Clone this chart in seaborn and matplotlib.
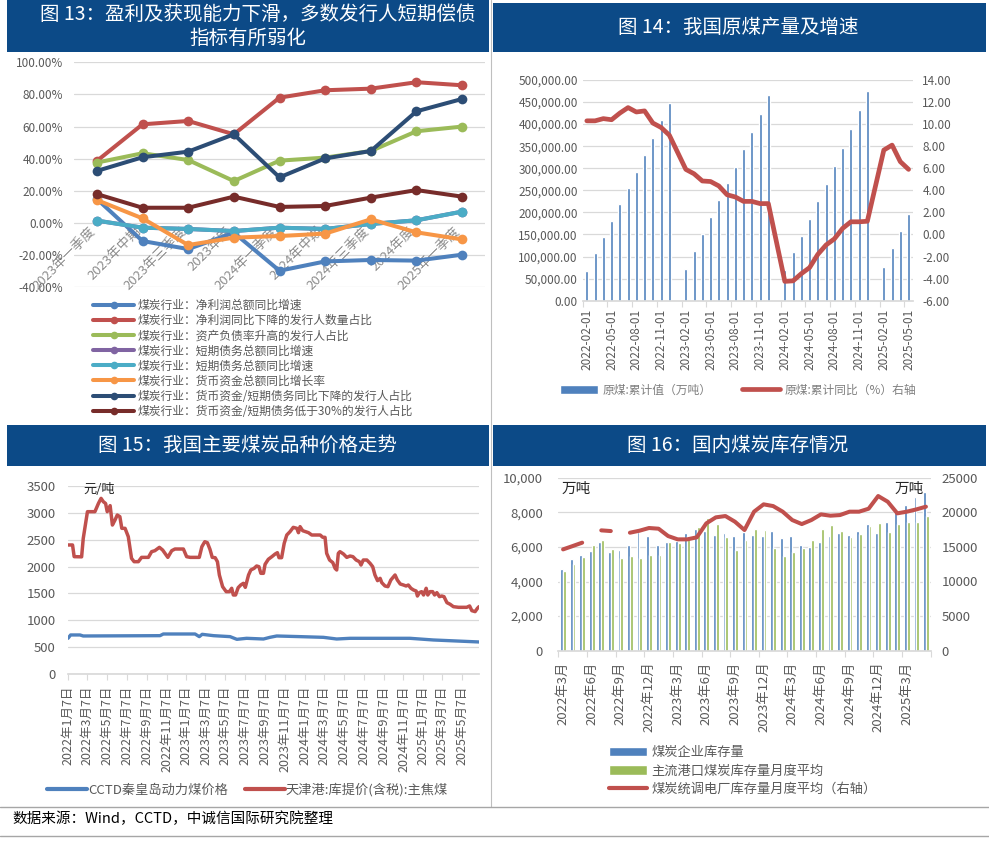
import numpy as np
import pandas as pd
import matplotlib
matplotlib.use('Agg')
import matplotlib.pyplot as plt
import matplotlib.dates as mdates
import seaborn as sns
from matplotlib.patches import Rectangle, Patch
from matplotlib.lines import Line2D
from matplotlib.ticker import FuncFormatter, FixedLocator

sns.set_theme(style='white')
plt.rcParams['font.family'] = ['Noto Sans CJK SC', 'DejaVu Sans']
plt.rcParams['axes.unicode_minus'] = False

nan = np.nan

# ---------------- Panel 13 data ----------------
periods = ['2023年一季度', '2023年中期', '2023年三季度', '2023年度', '2024年一季度',
           '2024年中期', '2024年三季度', '2024年度', '2025年一季度']
series13_labels = ['煤炭行业：净利润总额同比增速',
                   '煤炭行业：净利润同比下降的发行人数量占比',
                   '煤炭行业：资产负债率升高的发行人占比',
                   '煤炭行业：短期债务总额同比增速',
                   '煤炭行业：短期债务总额同比增速',
                   '煤炭行业：货币资金总额同比增长率',
                   '煤炭行业：货币资金/短期债务同比下降的发行人占比',
                   '煤炭行业：货币资金/短期债务低于30%的发行人占比']
profit_growth = [15.0, -11.2, -16.2, -6.0, -29.7, -23.9, -23.0, -23.4, -19.7]
profit_decline_share = [38.6, 61.4, 63.5, 55.2, 78.0, 82.6, 83.6, 87.6, 85.7]
leverage_up_share = [37.6, 43.4, 39.2, 26.1, 38.8, 40.7, 44.8, 57.1, 60.0]
short_debt_growth_a = [1.5, -2.9, -3.7, -5.0, -2.9, -3.7, -0.6, 1.7, 7.1]
short_debt_growth_b = [1.5, -2.9, -3.7, -5.0, -2.9, -3.7, -0.6, 1.7, 7.1]
cash_growth = [14.3, 2.9, -13.7, -9.1, -8.1, -6.6, 2.3, -5.8, -10.2]
cash_debt_decline_share = [32.4, 40.9, 44.4, 55.2, 28.4, 40.2, 44.8, 69.5, 77.2]
cash_debt_below30_share = [18.0, 9.5, 9.5, 16.4, 10.0, 10.6, 15.8, 20.5, 16.4]
colors13 = ['#4F81BD', '#C0504D', '#9BBB59', '#8064A2', '#4BACC6', '#F79646', '#2C4D75', '#772C2A']

# ---------------- Panel 14 data ----------------
months14 = pd.date_range('2022-02-01', '2025-05-01', freq='MS')
raw_coal_cum = [67000, 107000, 143500, 180000, 218000, 255000, 292000, 331000, 368600, 409000, 449000,
                nan, 72000, 113000, 151000, 190000, 229000, 266000, 304000, 344000, 382000, 423000, 466000,
                nan, 69000, 109500, 146500, 184000, 226000, 264000, 305000, 347000, 388000, 432000, 476000,
                nan, 75500, 119000, 158000, 197000]
raw_coal_yoy = [10.3, 10.3, 10.5, 10.4, 11.0, 11.5, 11.1, 11.2, 10.1, 9.7, 9.0,
                nan, 5.9, 5.5, 4.85, 4.8, 4.4, 3.6, 3.4, 3.0, 3.0, 2.8, 2.8,
                nan, -4.25, -4.2, -3.55, -3.0, -1.8, -0.95, -0.4, 0.55, 1.15, 1.15, 1.2,
                nan, 7.65, 8.1, 6.6, 5.9]

# ---------------- Panel 15 data ----------------
price_start = '2022-01-07'
coking_days = [0, 14, 19, 42, 47, 60, 83, 94, 102, 109, 116, 121, 130, 137, 145, 152, 160, 166, 176, 186,
               196, 204, 217, 227, 248, 258, 268, 282, 292, 308, 320, 330, 356, 366, 377, 405, 413, 422,
               430, 438, 445, 454, 461, 467, 477, 488, 498, 505, 510, 517, 525, 533, 541, 547, 557, 564,
               574, 582, 589, 595, 603, 608, 618, 629, 639, 646, 651, 659, 667, 675, 685, 695, 706, 711,
               716, 724, 742, 752, 778, 786, 793, 798, 807, 817, 824, 829, 834, 839, 850, 860, 870, 879,
               889, 899, 904, 911, 922, 932, 940, 947, 955, 963, 968, 978, 987, 996, 1009, 1016, 1025,
               1035, 1043, 1050, 1058, 1066, 1074, 1078, 1084, 1091, 1097, 1105, 1110, 1117, 1125, 1131,
               1138, 1146, 1153, 1160, 1169, 1179, 1189, 1205, 1230, 1239, 1246, 1256, 1263, 1268]
coking_price = [2400, 2400, 2183, 2180, 2520, 3018, 3018, 3172, 3265, 3203, 3170, 3018, 3130, 2770, 2863,
                2956, 2925, 2709, 2709, 2554, 2152, 2090, 2090, 2170, 2170, 2276, 2294, 2356, 2306, 2170,
                2294, 2325, 2325, 2183, 2170, 2170, 2368, 2461, 2442, 2319, 2170, 2164, 2090, 1843, 1626,
                1534, 1534, 1596, 1472, 1472, 1608, 1657, 1688, 1614, 1843, 1936, 1966, 2010, 1997, 1874,
                1874, 2041, 2134, 2183, 2232, 2257, 2164, 2164, 2430, 2585, 2647, 2727, 2709, 2628, 2740,
                2665, 2628, 2585, 2585, 2542, 2542, 2245, 2121, 2072, 1966, 1936, 2245, 2276, 2232, 2170,
                2195, 2183, 2121, 2090, 2028, 2121, 2121, 2059, 1997, 1843, 1738, 1781, 1701, 1639, 1626,
                1750, 1843, 1750, 1676, 1657, 1639, 1657, 1596, 1565, 1546, 1453, 1515, 1534, 1472, 1596,
                1472, 1534, 1534, 1472, 1515, 1441, 1453, 1441, 1330, 1299, 1255, 1243, 1243, 1268, 1181,
                1163, 1224, 1255]
thermal_days = [0, 8, 37, 47, 284, 294, 392, 405, 414, 449, 500, 521, 551, 603, 623, 644, 716, 788, 829,
                870, 1055, 1127, 1268]
thermal_price = [668, 730, 730, 711, 717, 748, 748, 699, 742, 717, 699, 649, 668, 655, 686, 711, 699, 686,
                 655, 668, 668, 637, 600]

# ---------------- Panel 16 data ----------------
months16 = pd.date_range('2022-03-01', '2025-05-01', freq='MS')
enterprise_stock = [4720, 5300, 5510, 5760, 6300, 5720, 5820, 6110, 6880, 6630, 6110, 6300, 6340, 6780,
                    7010, 6920, 6690, 6800, 6630, 6880, 6690, 6630, 6920, 6510, 6610, 6110, 6010, 6300,
                    6630, 6800, 6690, 6920, 7300, 6820, 7440, 8170, 8400, 8880, 9190]
port_stock = [4590, 5030, 5390, 6090, 6420, 5860, 5380, 5470, 5360, 5550, 5510, 6300, 6200, 6630, 7170,
              7650, 7300, 6570, 5820, 6400, 7010, 6980, 5930, 5450, 5700, 5920, 6400, 7030, 7260, 6940,
              6570, 6740, 7210, 7360, 6880, 7320, 7440, 7440, 7780]
plant_stock = [14640, 15120, 15610, nan, 17390, 17290, nan, 17050, 17340, 17730, 17630, 16570, 16090,
               16090, 16380, 18400, 19270, 19460, 18640, 17440, 20090, 21150, 20900, 20090, 18880, 18300,
               18880, 19700, 19510, 19600, 20090, 20090, 20520, 22350, 21530, 19850, 20090, 20420, 20810]

BAR = '#0C4A87'
GRID = '#D9D9D9'
TICK = '#595959'

fig = plt.figure(figsize=(9.89, 8.42), dpi=100)


def fx(px):
    return px / 989


def fy(py):
    return 1 - py / 842


def axes_px(x0, x1, ytop, ybot):
    return fig.add_axes([fx(x0), fy(ybot), fx(x1) - fx(x0), fy(ytop) - fy(ybot)])


def bar(x0, x1, y0, y1):
    fig.add_artist(Rectangle((fx(x0), fy(y1)), fx(x1) - fx(x0), fy(y0) - fy(y1),
                             transform=fig.transFigure, facecolor=BAR, edgecolor='none', zorder=0))


# Title bars
bar(7, 489, 0, 52)
bar(493, 986, 3, 52)
bar(7, 489, 425, 466)
bar(493, 986, 425, 466)
tkw = dict(color='white', fontsize=14, ha='center', va='center')
fig.text(fx(258), fy(14), '图 13：盈利及获现能力下滑，多数发行人短期偿债', **tkw)
fig.text(fx(248), fy(38), '指标有所弱化', **tkw)
fig.text(fx(738), fy(27), '图 14：我国原煤产量及增速', **tkw)
fig.text(fx(248), fy(445), '图 15：我国主要煤炭品种价格走势', **tkw)
fig.text(fx(738), fy(445), '图 16：国内煤炭库存情况', **tkw)

# separators
fig.add_artist(Line2D([fx(491), fx(491)], [fy(0), fy(807)], transform=fig.transFigure, color='#BFBFBF', lw=0.8))
fig.add_artist(Line2D([0, 1], [fy(807), fy(807)], transform=fig.transFigure, color='#A6A6A6', lw=1.0))
fig.add_artist(Line2D([0, 1], [fy(836), fy(836)], transform=fig.transFigure, color='#A6A6A6', lw=1.0))
fig.text(fx(12), fy(819), '数据来源：Wind，CCTD，中诚信国际研究院整理', fontsize=10.5, color='black', va='center')

# ================= Panel 13 =================
ax1 = axes_px(74, 485, 62.3, 287.3)
vals13 = [profit_growth, profit_decline_share, leverage_up_share, short_debt_growth_a,
          short_debt_growth_b, cash_growth, cash_debt_decline_share, cash_debt_below30_share]
rows = []
for k, v in enumerate(vals13):
    for i, val in enumerate(v):
        rows.append({'key': f's{k}', 'idx': i, 'value': val})
df13 = pd.DataFrame(rows)
sns.lineplot(data=df13, x='idx', y='value', hue='key', hue_order=[f's{k}' for k in range(8)],
             palette=colors13, marker='o', markersize=7, markeredgewidth=0, linewidth=2.9,
             legend=False, ax=ax1, zorder=3)
ax1.set_xlim(-0.5, 8.5)
ax1.set_ylim(-40, 100)
ax1.set_yticks(range(-40, 101, 20))
ax1.yaxis.set_major_formatter(FuncFormatter(lambda v, p: f'{v:.2f}%'))
ax1.set_xticks([])
ax1.set_xlabel('')
ax1.set_ylabel('')
ax1.grid(axis='y', color=GRID, lw=0.9)
ax1.set_axisbelow(True)
for s in ax1.spines.values():
    s.set_visible(False)
ax1.tick_params(axis='y', length=0, pad=8, labelsize=8.5, labelcolor=TICK)
for i, lab in enumerate(periods):
    ax1.text(i + 0.02, -1.0, lab, rotation=45, ha='right', va='top', fontsize=9.5, color='#8C8C8C', zorder=1)
h13 = [Line2D([0], [0], color=c, lw=2.9, marker='o', markersize=5.5, markeredgewidth=0) for c in colors13]
fig.legend(h13, series13_labels, loc='upper left', bbox_to_anchor=(fx(93), fy(299)),
           frameon=False, fontsize=8.5, labelcolor=TICK, handlelength=3.5, handletextpad=0.25,
           labelspacing=0.18, borderpad=0, borderaxespad=0)

# ================= Panel 14 =================
ax2 = axes_px(582.7, 912.7, 80, 300.7)
df14 = pd.DataFrame({'idx': np.arange(len(months14)), 'cum': raw_coal_cum, 'yoy': raw_coal_yoy})
sns.barplot(data=df14.dropna(subset=['cum']), x='idx', y='cum', native_scale=True, width=0.36,
            color='#4F81BD', saturation=1, errorbar=None, ax=ax2)
ax2.set_xlim(-0.5, len(months14) - 0.5)
ax2.set_ylim(0, 500000)
ax2.set_yticks(range(0, 500001, 50000))
ax2.yaxis.set_major_formatter(FuncFormatter(lambda v, p: f'{v:,.2f}'))
ax2.grid(axis='y', color=GRID, lw=0.9)
ax2.set_axisbelow(True)
lab_idx = list(range(0, len(months14), 3))
ax2.xaxis.set_major_locator(FixedLocator(lab_idx))
ax2.set_xticklabels([months14[i].strftime('%Y-%m-%d') for i in lab_idx], rotation=90)
ax2.xaxis.set_minor_locator(FixedLocator([i - 0.5 for i in lab_idx]))
ax2.tick_params(axis='x', which='major', length=0, pad=6, labelsize=8.5, labelcolor=TICK)
ax2.tick_params(axis='x', which='minor', length=4, width=0.8, color=GRID, direction='out', bottom=True)
ax2.tick_params(axis='y', length=0, pad=3.5, labelsize=8.5, labelcolor=TICK)
for s in ['left', 'right', 'top']:
    ax2.spines[s].set_visible(False)
ax2.spines['bottom'].set_color(GRID)
ax2.set_xlabel('')
ax2.set_ylabel('')
ax2b = ax2.twinx()
sns.lineplot(data=df14.dropna(subset=['yoy']), x='idx', y='yoy', color='#C0504D', lw=3.4, ax=ax2b)
ax2b.set_ylim(-6, 14)
ax2b.set_yticks(range(-6, 15, 2))
ax2b.yaxis.set_major_formatter(FuncFormatter(lambda v, p: f'{v:.2f}'))
ax2b.tick_params(axis='y', length=0, pad=7, labelsize=8.5, labelcolor=TICK)
for s in ax2b.spines.values():
    s.set_visible(False)
ax2b.set_ylabel('')
ax2b.set_xlim(-0.5, len(months14) - 0.5)
h14 = [Patch(facecolor='#4F81BD'), Line2D([0], [0], color='#C0504D', lw=3.4)]
fig.legend(h14, ['原煤:累计值（万吨）', '原煤:累计同比（%）右轴'], loc='center left',
           bbox_to_anchor=(fx(560), fy(390)), ncol=2, frameon=False, fontsize=8.5, labelcolor='#7F7F7F',
           handlelength=3.2, handletextpad=0.4, columnspacing=2.6, borderpad=0, borderaxespad=0)

# ================= Panel 15 =================
ax3 = axes_px(68, 479, 485.7, 674.3)
start = pd.Timestamp(price_start)
df15c = pd.DataFrame({'date': start + pd.to_timedelta(coking_days, unit='D'), 'price': coking_price})
df15t = pd.DataFrame({'date': start + pd.to_timedelta(thermal_days, unit='D'), 'price': thermal_price})
sns.lineplot(data=df15t, x='date', y='price', color='#4F81BD', lw=2.4, ax=ax3)
sns.lineplot(data=df15c, x='date', y='price', color='#C0504D', lw=2.5, ax=ax3)
ax3.set_xlim(start, start + pd.Timedelta(days=max(coking_days)))
ax3.set_ylim(0, 3500)
ax3.set_yticks(range(0, 3501, 500))
ax3.grid(axis='y', color=GRID, lw=0.9)
ax3.set_axisbelow(True)
ax3.xaxis.set_major_locator(mdates.MonthLocator(bymonth=[1, 3, 5, 7, 9, 11], bymonthday=7))
ax3.xaxis.set_major_formatter(FuncFormatter(
    lambda v, p: (lambda d: f'{d.year}年{d.month}月{d.day}日')(mdates.num2date(v))))
ax3.tick_params(axis='x', length=4, width=0.8, color=GRID, direction='out', bottom=True, pad=4,
                labelsize=9, labelcolor=TICK, labelrotation=90)
ax3.tick_params(axis='y', length=0, pad=9, labelsize=9.5, labelcolor=TICK)
for s in ['left', 'right', 'top']:
    ax3.spines[s].set_visible(False)
ax3.spines['bottom'].set_color(GRID)
ax3.set_xlabel('')
ax3.set_ylabel('')
fig.text(fx(83), fy(489), '元/吨', fontsize=9.5, color='#262626', va='center')
h15 = [Line2D([0], [0], color='#4F81BD', lw=3), Line2D([0], [0], color='#C0504D', lw=3)]
fig.legend(h15, ['CCTD秦皇岛动力煤价格', '天津港:库提价(含税):主焦煤'], loc='center left',
           bbox_to_anchor=(fx(47), fy(790)), ncol=2, frameon=False, fontsize=9.5, labelcolor=TICK,
           handlelength=3.0, handletextpad=0.1, columnspacing=1.3, borderpad=0, borderaxespad=0)

# ================= Panel 16 =================
ax4 = axes_px(558.3, 930.7, 477.7, 650.7)
n16 = len(months16)
df16 = pd.concat([
    pd.DataFrame({'idx': np.arange(n16), 'value': enterprise_stock, 'series': '煤炭企业库存量'}),
    pd.DataFrame({'idx': np.arange(n16), 'value': port_stock, 'series': '主流港口煤炭库存量月度平均'}),
])
sns.barplot(data=df16, x='idx', y='value', hue='series',
            hue_order=['煤炭企业库存量', '主流港口煤炭库存量月度平均'],
            palette=['#4F81BD', '#9BBB59'], saturation=1, width=0.6, errorbar=None, legend=False, ax=ax4)
ax4.set_xlim(-0.5, n16 - 0.5)
ax4.set_ylim(0, 10000)
ax4.set_yticks(range(0, 10001, 2000))
ax4.yaxis.set_major_formatter(FuncFormatter(lambda v, p: f'{v:,.0f}'))
ax4.grid(axis='y', color=GRID, lw=0.9)
ax4.set_axisbelow(True)
lab16 = list(range(0, n16, 3))
ax4.xaxis.set_major_locator(FixedLocator(lab16))
ax4.set_xticklabels([f'{months16[i].year}年{months16[i].month}月' for i in lab16], rotation=90)
ax4.xaxis.set_minor_locator(FixedLocator([i - 0.5 for i in lab16] + [n16 - 0.5]))
ax4.tick_params(axis='x', which='major', length=0, pad=8, labelsize=9.5, labelcolor=TICK)
ax4.tick_params(axis='x', which='minor', length=4, width=0.8, color=GRID, direction='out', bottom=True)
ax4.tick_params(axis='y', length=0, pad=11, labelsize=9.5, labelcolor=TICK)
for s in ['left', 'right', 'top']:
    ax4.spines[s].set_visible(False)
ax4.spines['bottom'].set_color(GRID)
ax4.set_xlabel('')
ax4.set_ylabel('')
ax4b = ax4.twinx()
df16r = pd.DataFrame({'idx': np.arange(n16), 'value': plant_stock})
df16r['seg'] = df16r['value'].isna().cumsum()
sns.lineplot(data=df16r.dropna(), x='idx', y='value', units='seg', estimator=None,
             color='#C0504D', lw=2.9, ax=ax4b)
ax4b.set_ylim(0, 25000)
ax4b.set_yticks(range(0, 25001, 5000))
ax4b.tick_params(axis='y', length=0, pad=8, labelsize=9.5, labelcolor=TICK)
for s in ax4b.spines.values():
    s.set_visible(False)
ax4b.set_ylabel('')
ax4b.set_xlim(-0.5, n16 - 0.5)
fig.text(fx(562), fy(489), '万吨', fontsize=10.5, color='#262626', va='center')
fig.text(fx(895), fy(489), '万吨', fontsize=10.5, color='#262626', va='center')
h16 = [Patch(facecolor='#4F81BD'), Patch(facecolor='#9BBB59'), Line2D([0], [0], color='#C0504D', lw=3)]
fig.legend(h16, ['煤炭企业库存量', '主流港口煤炭库存量月度平均', '煤炭统调电厂库存量月度平均（右轴）'],
           loc='upper left', bbox_to_anchor=(fx(609), fy(746)), frameon=False, fontsize=9.5,
           labelcolor=TICK, handlelength=2.9, handletextpad=0.3, labelspacing=0.42,
           borderpad=0, borderaxespad=0)

fig.savefig('out.png', dpi=100)
